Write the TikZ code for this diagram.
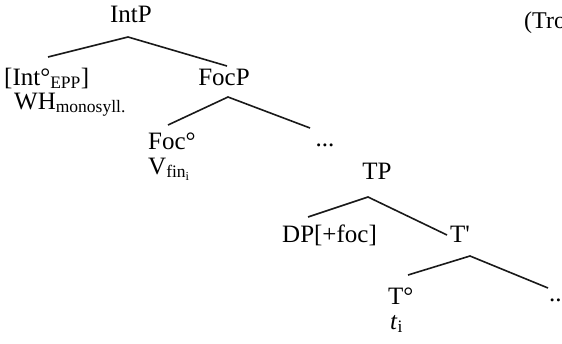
\documentclass[tikz,border=0pt]{standalone}
\usepackage{fontspec}
\setmainfont{Liberation Serif}
\begin{document}
\begin{tikzpicture}[x=1pt,y=-1pt,
  lab/.style={inner sep=0pt,anchor=base,font=\fontsize{25}{28}\selectfont},
  labl/.style={lab,anchor=base west},
  edge/.style={line width=1.6pt,black!90}]
\useasboundingbox (0,0) rectangle (562,343);
% labels
\node[lab] (intp) at (131,22) {IntP};
\node[labl] (int) at (4,85) {[Int°\textsubscript{EPP}]};
\node[labl] (wh) at (14,109) {WH\textsubscript{monosyll.}};
\node[lab] (focp) at (224,85) {FocP};
\node[labl] (foc) at (148,149) {Foc°};
\node[labl] (vfin) at (148,174) {V\textsubscript{fin\textsubscript{i}}};
\node[lab] (dots1) at (325,146) {...};
\node[lab] (tp) at (377,179) {TP};
\node[labl] (dp) at (282,242) {DP[+foc]};
\node[lab] (tbar) at (460,242) {T\textquotesingle};
\node[labl] (tdeg) at (388,304) {T°};
\node[labl] (ti) at (390,329) {\textit{t}\textsubscript{i}};
\node[labl] (dots2) at (549,301) {..};
\node[labl,font=\fontsize{24}{28}\selectfont] (tro) at (524,28) {(Tro};
% branch points
\coordinate (a1) at (128,37); \coordinate (l1) at (48,57); \coordinate (r1) at (227,66);
\coordinate (a2) at (228,97); \coordinate (l2) at (168,125); \coordinate (r2) at (310,128);
\coordinate (a3) at (368,197); \coordinate (l3) at (308,217); \coordinate (r3) at (447,235);
\coordinate (a4) at (470,256); \coordinate (l4) at (408,275); \coordinate (r4) at (548,288);
\draw[edge] (l1) -- (a1) -- (r1);
\draw[edge] (l2) -- (a2) -- (r2);
\draw[edge] (l3) -- (a3) -- (r3);
\draw[edge] (l4) -- (a4) -- (r4);
\end{tikzpicture}
\end{document}
